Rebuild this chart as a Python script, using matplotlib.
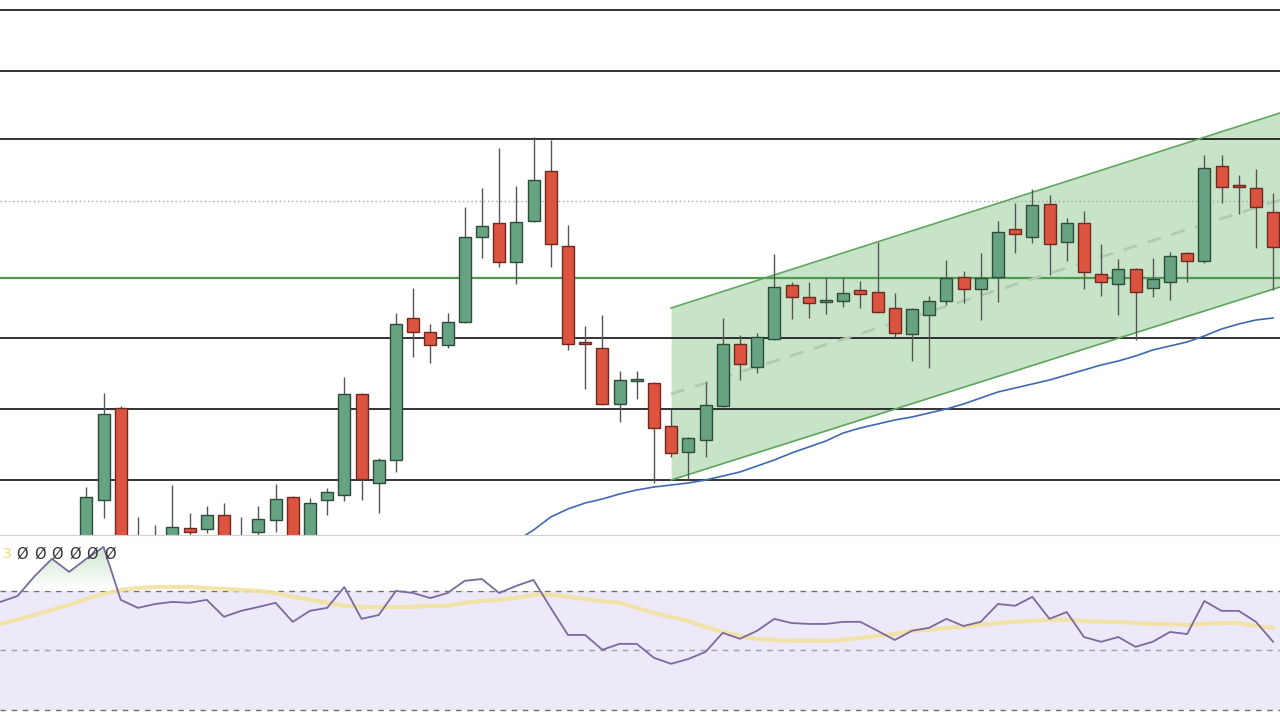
import numpy as np
import matplotlib
matplotlib.use("Agg")
import matplotlib.pyplot as plt
from matplotlib.colors import LinearSegmentedColormap
from matplotlib.path import Path

# price candles (arbitrary price units), one per bar
opens = [55, 100, 192, 50, 52, 60, 72, 71, 85, 62, 68, 80, 103, 62, 100, 105, 206, 117, 140, 282,
         268, 255, 278, 363, 377, 338, 379, 429, 354, 257, 252, 196, 219, 217, 174, 148, 160, 194, 256, 233,
         261, 315, 303, 298, 299, 310, 308, 292, 266, 285, 299, 323, 311, 323, 371, 363, 396, 358, 377, 326,
         316, 331, 312, 318, 347, 339, 434, 413.5, 412, 388]
closes = [103, 186, 52, 60, 60, 73, 68, 85, 60, 55, 81, 101, 60, 97, 108, 206, 121, 140, 276, 268,
          255, 278, 363, 374, 338, 378, 420, 356, 256, 256, 196, 220, 220, 172, 147, 162, 195, 256, 236, 263,
          313, 303, 297, 298, 307, 306, 288, 267, 291, 299, 322, 311, 322, 368, 366, 395, 356, 377, 328, 318,
          331, 308, 321, 344, 339, 432, 413, 413, 393, 353]
highs = [113, 207, 194, 83, 75, 115, 87, 94, 97, 83, 94, 116, 104, 102, 112, 223, 207, 142, 287, 312,
         276, 287, 393, 412, 452, 414, 463, 460, 375, 274, 285, 229, 229, 218, 191, 163, 218, 282, 265, 267,
         346, 318, 318, 323, 323, 319, 358, 307, 292, 304, 340, 329, 347, 379, 397, 411, 405, 382, 389, 356,
         341, 332, 342, 348, 348, 445, 445, 425, 431, 407]
lows = [45, 82, 40, 40, 45, 55, 62, 67, 55, 50, 64, 68, 55, 58, 85, 99, 100, 87, 128, 243,
        237, 252, 277, 342, 333, 316, 378, 333, 250, 211, 195, 178, 201, 117, 143, 121, 143, 193, 220, 227,
        260, 281, 282, 286, 293, 292, 287, 263, 239, 232, 295, 297, 280, 298, 347, 357, 325, 339, 311, 304,
        285, 260, 303, 300, 318, 337, 397, 386, 352, 310]
moving_avg = [np.nan] * 24 + [45, 59, 70, 83, 91, 97, 101, 106, 110, 113, 115, 117, 120, 124, 128, 134,
                              140, 147, 153, 159, 167, 172, 176, 180, 183, 187, 191, 196, 202, 208, 212,
                              216, 220, 225, 230, 235, 239, 244, 250, 254, 258, 264, 271, 276, 280, 282]

support_levels = [590, 529, 461, 262, 191, 120]
pivot_level = 322
dotted_level = 399

# rising channel: anchor bars and prices
chan_x = [39, 74.4]
chan_upper = [292, 487]
chan_lower = [120, 313]

# RSI panel, starts 5 bars before the first visible candle
rsi = [66.3, 68.3, 75.0, 80.8, 76.4, 80.8, 84.8, 67.0, 64.3, 65.6,
       66.3, 66.0, 67.0, 61.3, 63.3, 64.6, 66.0, 59.6, 63.3, 64.3,
       71.3, 60.6, 61.9, 70.0, 69.3, 67.6, 69.3, 73.4, 74.0, 69.3,
       71.7, 73.7, 64.3, 55.2, 55.2, 50.2, 52.2, 52.2, 47.5, 45.5,
       47.1, 49.5, 55.9, 53.9, 56.6, 60.6, 59.2, 58.9, 58.9, 59.6,
       59.6, 56.6, 53.5, 56.6, 57.6, 60.6, 58.2, 59.6, 65.6, 65.0,
       68.0, 60.6, 62.9, 54.5, 52.9, 54.5, 51.2, 52.9, 56.2, 55.5,
       66.6, 63.3, 63.3, 59.6, 52.9]
rsi_signal = [58.9, 60.3, 61.9, 63.6, 65.3, 67.3, 69.0, 70.3, 71.0, 71.3,
              71.3, 71.3, 71.0, 70.7, 70.3, 70.0, 69.3, 68.0, 67.0, 66.0,
              65.0, 64.6, 64.6, 64.6, 64.6, 65.0, 65.0, 66.0, 66.6, 67.0,
              67.6, 68.7, 68.7, 68.0, 67.3, 66.6, 66.0, 64.3, 62.6, 61.3,
              59.9, 57.9, 56.2, 54.9, 53.9, 53.5, 53.2, 53.2, 53.2, 53.5,
              54.2, 54.9, 55.5, 56.6, 56.9, 57.6, 57.9, 58.6, 59.2, 59.6,
              59.9, 60.3, 60.3, 59.9, 59.6, 59.6, 59.2, 58.9, 58.9, 58.6,
              58.9, 59.2, 59.2, 58.2, 57.6]
rsi_levels = [70, 50, 30]
legend_period = "3"
legend_slots = ["Ø"] * 6

XLIM = (-0.02, 74.4)


def draw_candles(ax, x, o, h, l, c):
    up = c >= o
    bottom = np.minimum(o, c)
    height = np.maximum(np.abs(c - o), 1.6)
    ax.vlines(x, l, h, color="#555555", lw=1, zorder=3)
    ax.bar(x[up], height[up], bottom=bottom[up], width=0.7, color="#67a382",
           edgecolor="#2e4c3a", lw=1, zorder=4)
    ax.bar(x[~up], height[~up], bottom=bottom[~up], width=0.7, color="#dc5340",
           edgecolor="#6e2a1f", lw=1, zorder=4)


fig = plt.figure(figsize=(12.8, 7.2), dpi=100)
ax = fig.add_axes([0, 185 / 720, 1, 535 / 720])
ax2 = fig.add_axes([0, 0, 1, 185 / 720])

# --- price panel ---
x = np.arange(5, 5 + len(opens))
o, h, l, c = (np.array(v, dtype=float) for v in (opens, highs, lows, closes))

cx = np.array(chan_x)
up_line = np.array(chan_upper, dtype=float)
lo_line = np.array(chan_lower, dtype=float)
ax.fill_between(cx, lo_line, up_line, color="#c8e4c8", lw=0, zorder=0)
ax.plot(cx, up_line, color="#5ea65e", lw=1.2, zorder=2)
ax.plot(cx, lo_line, color="#5ea65e", lw=1.2, zorder=2)
ax.plot(cx, (up_line + lo_line) / 2, color="#b3c8b3", lw=2, ls=(0, (5, 4)), zorder=1.5)

for lev in support_levels:
    ax.axhline(lev, color="#111111", lw=1.2, zorder=1)
ax.axhline(pivot_level, color="#4f9a4f", lw=1.6, zorder=1.2)
ax.axhline(dotted_level, color="#9aa8a8", lw=1, ls=(0, (1, 2)), zorder=1)

ax.plot(x, moving_avg, color="#4068b3", lw=1.2, zorder=2.5)
draw_candles(ax, x, o, h, l, c)

ax.set_xlim(*XLIM)
ax.set_ylim(65, 600)
ax.set_axis_off()

# --- RSI panel ---
xr = np.arange(len(rsi))
r = np.array(rsi)
ax2.axhspan(30, 70, color="#ede9f8", lw=0, zorder=0)
for lev in rsi_levels:
    ax2.axhline(lev, color="#6f6f6f" if lev != 50 else "#a0a0a0", lw=1, ls=(0, (4, 4)), zorder=1)

over = ax2.fill_between(xr, r, 70, where=r >= 70, interpolate=True,
                        facecolor="none", edgecolor="none")
grad = np.linspace(0, 1, 256).reshape(-1, 1)
cmap = LinearSegmentedColormap.from_list("ob", ["#ffffff", "#c2e0c2"])
im = ax2.imshow(grad, extent=[XLIM[0], XLIM[1], 70, 88.8], origin="lower",
                aspect="auto", cmap=cmap, zorder=1.5)
clip = Path.make_compound_path(*over.get_paths())
im.set_clip_path(clip, transform=ax2.transData)

ax2.plot(xr, rsi_signal, color="#f2e2a0", lw=3, alpha=0.9, zorder=2)
ax2.plot(xr, r, color="#7a6a9e", lw=1.3, zorder=3)

ax2.text(0.002, 0.897, legend_period, transform=ax2.transAxes, color="#f0dc70",
         fontsize=10, ha="left", va="center")
for k, s in enumerate(legend_slots):
    ax2.text((22 + 17.6 * k) / 1280, 0.897, s, transform=ax2.transAxes, color="#333333",
             fontsize=10.5, ha="center", va="center")

ax2.set_xlim(*XLIM)
ax2.set_ylim(26.6, 88.8)
ax2.set_xticks([])
ax2.set_yticks([])
for side in ["left", "right", "bottom"]:
    ax2.spines[side].set_visible(False)
ax2.spines["top"].set_color("#d0d0d0")

fig.savefig("out.png", dpi=100, facecolor="white")
